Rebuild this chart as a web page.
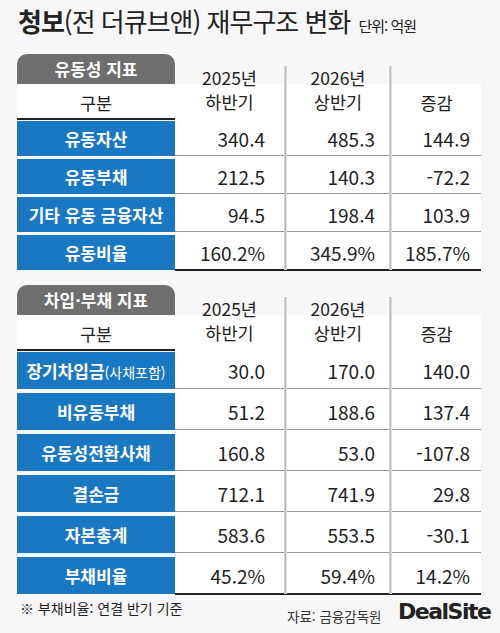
<!DOCTYPE html>
<html lang="ko">
<head>
<meta charset="UTF-8">
<script src="https://cdn.jsdelivr.net/npm/chart.js"></script>
<style>
  body { margin:0; width:500px; height:633px; background:#f7f7f7; font-family:"Noto Sans CJK KR","Noto Sans",sans-serif; color:#222; position:relative; overflow:hidden; }
  .abs { position:absolute; }
  .title { left:18px; top:2px; font-size:26px; letter-spacing:-1px; }
  .title b { font-weight:700; }
  .title small { font-size:15px; margin-left:8px; }
  .tab { left:17px; width:158px; background:#6e6e6e; color:#fff; border-radius:10px 10px 0 0; font-size:17px; font-weight:700; text-align:center; }
  .hdr { left:17px; width:464px; background:#fff; border-bottom:2px solid #222; }
  .cell { text-align:center; font-size:17.5px; line-height:20px; height:20px; }
  .lab { left:17px; width:158px; background:#1a78c2; color:#fff; font-weight:700; text-align:center; font-size:17px; }
  .row { left:175px; width:306px; background:#fff; border-bottom:1px solid #999; }
  .num { font-size:19px; text-align:right; }
  .sep { width:3px; background:linear-gradient(90deg,#ddd,#bbb,#eee); }
</style>
</head>
<body>
<div class="abs title"><b>청보</b>(전 더큐브앤) 재무구조 변화<small>단위: 억원</small></div>
<div id="root"></div>
<div class="abs" style="left:20px;top:598px;font-size:14px;">※ 부채비율: 연결 반기 기준</div>
<div class="abs" style="left:287px;top:606px;font-size:13.5px;color:#333;">자료: 금융감독원</div>
<div class="abs" style="left:398px;top:599px;font-size:22px;font-weight:900;font-family:'DejaVu Sans';letter-spacing:-1.5px;">DealSite</div>
<script>
const periods = ['2025년\n하반기', '2026년\n상반기', '증감'];
const liqLabels = ['유동자산', '유동부채', '기타 유동 금융자산', '유동비율'];
const liqH1 = ['340.4', '212.5', '94.5', '160.2%'];
const liqH2 = ['485.3', '140.3', '198.4', '345.9%'];
const liqDiff = ['144.9', '-72.2', '103.9', '185.7%'];
const debtLabels = ['장기차입금<span style="font-weight:400;font-size:14px">(사채포함)</span>', '비유동부채', '유동성전환사채', '결손금', '자본총계', '부채비율'];
const debtH1 = ['30.0', '51.2', '160.8', '712.1', '583.6', '45.2%'];
const debtH2 = ['170.0', '188.6', '53.0', '741.9', '553.5', '59.4%'];
const debtDiff = ['140.0', '137.4', '-107.8', '29.8', '-30.1', '14.2%'];

const root = document.getElementById('root');
const cols = [[175, 284], [287, 389], [392, 481]];
const numRight = [265, 375, 470];

function section(top, tab, labels, a, b, c, rowH, gap) {
  let h = '';
  h += `<div class="abs tab" style="top:${top}px;height:30px;line-height:30px">${tab}</div>`;
  const hy = top + 30, hh = 34;
  h += `<div class="abs hdr" style="top:${hy}px;height:${hh}px"></div>`;
  h += `<div class="abs cell" style="left:17px;width:158px;top:${hy + 9}px">구분</div>`;
  periods.forEach((p, i) => {
    const lines = p.split('\n');
    const t = lines.length > 1 ? hy - 16 : hy + 9;
    lines.forEach((ln, k) => {
      h += `<div class="abs cell" style="left:${cols[i][0]}px;width:${cols[i][1] - cols[i][0]}px;top:${t + k * 24}px">${ln}</div>`;
    });
  });
  let y = hy + hh + 3;
  labels.forEach((l, r) => {
    h += `<div class="abs lab" style="top:${y}px;height:${rowH}px;line-height:${rowH}px">${l}</div>`;
    h += `<div class="abs row" style="top:${y - (r ? gap : 3)}px;height:${rowH + (r ? gap : 3) - 1}px${r === labels.length - 1 ? ';border-bottom:2px solid #222' : ''}"></div>`;
    [a, b, c].forEach((v, i) => {
      h += `<div class="abs num" style="left:${numRight[i] - 100}px;width:100px;top:${y}px;line-height:${rowH}px">${v[r]}</div>`;
    });
    y += rowH + gap;
  });
  const bottom = y - gap;
  [284, 389].forEach(x => {
    h += `<div class="abs sep" style="left:${x}px;top:${hy - 18}px;height:${bottom - hy + 18}px"></div>`;
  });
  return h;
}
root.innerHTML = section(54, '유동성 지표', liqLabels, liqH1, liqH2, liqDiff, 35, 3)
  + section(285, '차입·부채 지표', debtLabels, debtH1, debtH2, debtDiff, 37, 4);
</script>
</body>
</html>
